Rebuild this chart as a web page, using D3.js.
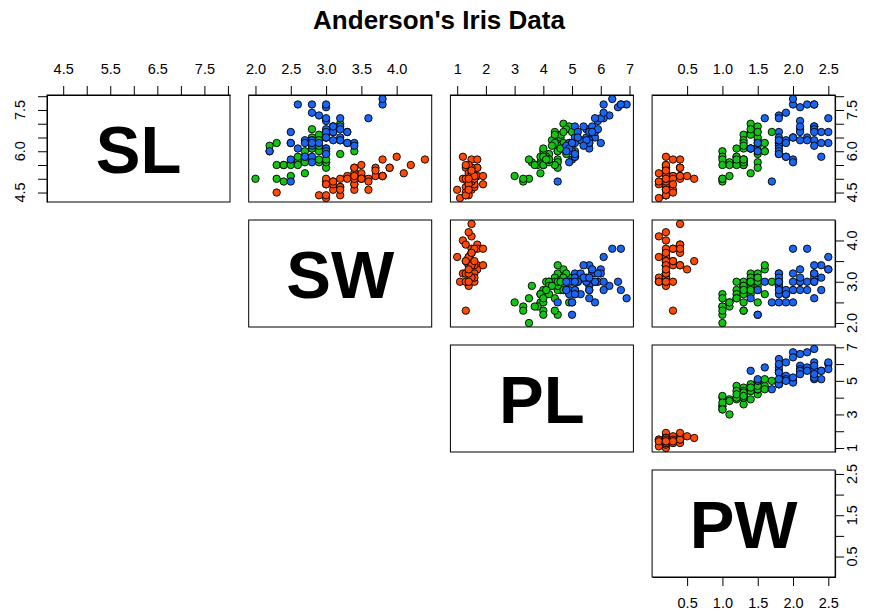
<!DOCTYPE html>
<html>
<head>
<meta charset="utf-8">
<script src="https://cdn.jsdelivr.net/npm/d3@7"></script>
<style>
  html, body { margin: 0; padding: 0; background: #fff; }
  svg { display: block; font-family: "Liberation Sans", Arial, Helvetica, sans-serif; }
</style>
</head>
<body>
<svg id="chart" width="878" height="615"></svg>
<script>
// Anderson's iris measurements (cm), 50 flowers per species, in dataset order.
const sepalLength = [
  5.1,4.9,4.7,4.6,5.0,5.4,4.6,5.0,4.4,4.9,5.4,4.8,4.8,4.3,5.8,5.7,5.4,5.1,5.7,5.1,5.4,5.1,4.6,5.1,4.8,
  5.0,5.0,5.2,5.2,4.7,4.8,5.4,5.2,5.5,4.9,5.0,5.5,4.9,4.4,5.1,5.0,4.5,4.4,5.0,5.1,4.8,5.1,4.6,5.3,5.0,
  7.0,6.4,6.9,5.5,6.5,5.7,6.3,4.9,6.6,5.2,5.0,5.9,6.0,6.1,5.6,6.7,5.6,5.8,6.2,5.6,5.9,6.1,6.3,6.1,6.4,
  6.6,6.8,6.7,6.0,5.7,5.5,5.5,5.8,6.0,5.4,6.0,6.7,6.3,5.6,5.5,5.5,6.1,5.8,5.0,5.6,5.7,5.7,6.2,5.1,5.7,
  6.3,5.8,7.1,6.3,6.5,7.6,4.9,7.3,6.7,7.2,6.5,6.4,6.8,5.7,5.8,6.4,6.5,7.7,7.7,6.0,6.9,5.6,7.7,6.3,6.7,
  7.2,6.2,6.1,6.4,7.2,7.4,7.9,6.4,6.3,6.1,7.7,6.3,6.4,6.0,6.9,6.7,6.9,5.8,6.8,6.7,6.7,6.3,6.5,6.2,5.9
];
const sepalWidth = [
  3.5,3.0,3.2,3.1,3.6,3.9,3.4,3.4,2.9,3.1,3.7,3.4,3.0,3.0,4.0,4.4,3.9,3.5,3.8,3.8,3.4,3.7,3.6,3.3,3.4,
  3.0,3.4,3.5,3.4,3.2,3.1,3.4,4.1,4.2,3.1,3.2,3.5,3.6,3.0,3.4,3.5,2.3,3.2,3.5,3.8,3.0,3.8,3.2,3.7,3.3,
  3.2,3.2,3.1,2.3,2.8,2.8,3.3,2.4,2.9,2.7,2.0,3.0,2.2,2.9,2.9,3.1,3.0,2.7,2.2,2.5,3.2,2.8,2.5,2.8,2.9,
  3.0,2.8,3.0,2.9,2.6,2.4,2.4,2.7,2.7,3.0,3.4,3.1,2.3,3.0,2.5,2.6,3.0,2.6,2.3,2.7,3.0,2.9,2.9,2.5,2.8,
  3.3,2.7,3.0,2.9,3.0,3.0,2.5,2.9,2.5,3.6,3.2,2.7,3.0,2.5,2.8,3.2,3.0,3.8,2.6,2.2,3.2,2.8,2.8,2.7,3.3,
  3.2,2.8,3.0,2.8,3.0,2.8,3.8,2.8,2.8,2.6,3.0,3.4,3.1,3.0,3.1,3.1,3.1,2.7,3.2,3.3,3.0,2.5,3.0,3.4,3.0
];
const petalLength = [
  1.4,1.4,1.3,1.5,1.4,1.7,1.4,1.5,1.4,1.5,1.5,1.6,1.4,1.1,1.2,1.5,1.3,1.4,1.7,1.5,1.7,1.5,1.0,1.7,1.9,
  1.6,1.6,1.5,1.4,1.6,1.6,1.5,1.5,1.4,1.5,1.2,1.3,1.4,1.3,1.5,1.3,1.3,1.3,1.6,1.9,1.4,1.6,1.4,1.5,1.4,
  4.7,4.5,4.9,4.0,4.6,4.5,4.7,3.3,4.6,3.9,3.5,4.2,4.0,4.7,3.6,4.4,4.5,4.1,4.5,3.9,4.8,4.0,4.9,4.7,4.3,
  4.4,4.8,5.0,4.5,3.5,3.8,3.7,3.9,5.1,4.5,4.5,4.7,4.4,4.1,4.0,4.4,4.6,4.0,3.3,4.2,4.2,4.2,4.3,3.0,4.1,
  6.0,5.1,5.9,5.6,5.8,6.6,4.5,6.3,5.8,6.1,5.1,5.3,5.5,5.0,5.1,5.3,5.5,6.7,6.9,5.0,5.7,4.9,6.7,4.9,5.7,
  6.0,4.8,4.9,5.6,5.8,6.1,6.4,5.6,5.1,5.6,6.1,5.6,5.5,4.8,5.4,5.6,5.1,5.1,5.9,5.7,5.2,5.0,5.2,5.4,5.1
];
const petalWidth = [
  0.2,0.2,0.2,0.2,0.2,0.4,0.3,0.2,0.2,0.1,0.2,0.2,0.1,0.1,0.2,0.4,0.4,0.3,0.3,0.3,0.2,0.4,0.2,0.5,0.2,
  0.2,0.4,0.2,0.2,0.2,0.2,0.4,0.1,0.2,0.2,0.2,0.2,0.1,0.2,0.2,0.3,0.3,0.2,0.6,0.4,0.3,0.2,0.2,0.2,0.2,
  1.4,1.5,1.5,1.3,1.5,1.3,1.6,1.0,1.3,1.4,1.0,1.5,1.0,1.4,1.3,1.4,1.5,1.0,1.5,1.1,1.8,1.3,1.5,1.2,1.3,
  1.4,1.4,1.7,1.5,1.0,1.1,1.0,1.2,1.6,1.5,1.6,1.5,1.3,1.3,1.3,1.2,1.4,1.2,1.0,1.3,1.2,1.3,1.3,1.1,1.3,
  2.5,1.9,2.1,1.8,2.2,2.1,1.7,1.8,1.8,2.5,2.0,1.9,2.1,2.0,2.4,2.3,1.8,2.2,2.3,1.5,2.3,2.0,2.0,1.8,2.1,
  1.8,1.8,1.8,2.1,1.6,1.9,2.0,2.2,1.5,1.4,2.3,2.4,1.8,1.8,2.1,2.4,2.3,1.9,2.3,2.5,2.3,1.9,2.0,2.3,1.8
];
const speciesNames = ["setosa", "versicolor", "virginica"];
const speciesCounts = [50, 50, 50];
const speciesColors = ["#ff4a05", "#14c314", "#1a66f2"];

// Variable abbreviations shown on the diagonal
const varLabels = ["SL", "SW", "PL", "PW"];

// Tick marks and which of them carry a printed label (top/bottom, left/right)
const slTicks = [4.5, 5.0, 5.5, 6.0, 6.5, 7.0, 7.5, 8.0];
const slTopLabels = [4.5, 5.5, 6.5, 7.5];
const slSideLabels = [4.5, 6.0, 7.5];
const swTicks = [2.0, 2.5, 3.0, 3.5, 4.0];
const swTopLabels = [2.0, 2.5, 3.0, 3.5, 4.0];
const swSideLabels = [2.0, 3.0, 4.0];
const plTicks = [1, 2, 3, 4, 5, 6, 7];
const plTopLabels = [1, 2, 3, 4, 5, 6, 7];
const plSideLabels = [1, 3, 5, 7];
const pwTicks = [0.5, 1.0, 1.5, 2.0, 2.5];
const pwTopLabels = [0.5, 1.0, 1.5, 2.0, 2.5];
const pwSideLabels = [0.5, 1.5, 2.5];

// ---------------------------------------------------------------------------
const columns = [sepalLength, sepalWidth, petalLength, petalWidth];
const tickSets = [slTicks, swTicks, plTicks, pwTicks];
const topLabelSets = [slTopLabels, swTopLabels, plTopLabels, pwTopLabels];
const sideLabelSets = [slSideLabels, swSideLabels, plSideLabels, pwSideLabels];
const decimals = [1, 1, 0, 1];

const species = [];
speciesCounts.forEach((n, k) => { for (let i = 0; i < n; i++) species.push(k); });
const rows = d3.range(species.length).map(i => ({
  v: columns.map(c => c[i]),
  s: species[i]
}));

const svg = d3.select("#chart");
svg.append("rect").attr("width", 878).attr("height", 615).attr("fill", "#fff");

// Grid geometry
const panelW = 183, panelH = 107;
const colX = d3.range(4).map(j => 47 + j * 201.7);
const rowY = d3.range(4).map(i => 95 + i * 125);
const tickLen = 9;
const fontSize = 14.5;

// Per-variable scales with 4% padding on each side of the data range
function padded(vals) {
  const [lo, hi] = d3.extent(vals);
  const p = (hi - lo) * 0.04;
  return [lo - p, hi + p];
}
const domains = columns.map(padded);
const xScales = d3.range(4).map(j => d3.scaleLinear().domain(domains[j]).range([colX[j], colX[j] + panelW]));
const yScales = d3.range(4).map(i => d3.scaleLinear().domain(domains[i]).range([rowY[i] + panelH, rowY[i]]));

svg.append("text")
  .attr("x", 439).attr("y", 29)
  .attr("text-anchor", "middle")
  .attr("font-size", 26).attr("font-weight", "bold")
  .text("Anderson's Iris Data");

// Panels on and above the diagonal
for (let i = 0; i < 4; i++) {
  for (let j = i; j < 4; j++) {
    const g = svg.append("g");
    if (i === j) {
      g.append("text")
        .attr("x", colX[j] + panelW / 2)
        .attr("y", rowY[i] + panelH / 2 + 24)
        .attr("text-anchor", "middle")
        .attr("font-size", 67).attr("font-weight", "bold")
        .text(varLabels[i]);
    } else {
      const xs = xScales[j], ys = yScales[i];
      g.selectAll("circle").data(rows).join("circle")
        .attr("cx", d => xs(d.v[j]))
        .attr("cy", d => ys(d.v[i]))
        .attr("r", 3.7)
        .attr("fill", d => speciesColors[d.s])
        .attr("stroke", "#000")
        .attr("stroke-width", 0.9);
    }
    g.append("rect")
      .attr("x", colX[j]).attr("y", rowY[i])
      .attr("width", panelW).attr("height", panelH)
      .attr("fill", "none").attr("stroke", "#000").attr("stroke-width", 1);
  }
}

function styleAxis(g) {
  g.selectAll("text").attr("font-size", fontSize).attr("fill", "#000")
    .attr("font-family", "'Liberation Sans', Arial, sans-serif");
  g.selectAll("line").attr("stroke", "#000");
  g.select(".domain").attr("stroke", "#000");
}
const fmtFor = (k, labels) => d => labels.includes(d) ? d3.format("." + decimals[k] + "f")(d) : "";

// Horizontal axes: top of every column, bottom of the last column
for (let j = 0; j < 4; j++) {
  const ax = d3.axisTop(xScales[j])
    .tickValues(tickSets[j]).tickSize(tickLen).tickSizeOuter(0).tickPadding(12)
    .tickFormat(fmtFor(j, topLabelSets[j]));
  svg.append("g").attr("transform", `translate(0,${rowY[0]})`).call(ax).call(styleAxis);
}
{
  const ax = d3.axisBottom(xScales[3])
    .tickValues(tickSets[3]).tickSize(tickLen).tickSizeOuter(0).tickPadding(12)
    .tickFormat(fmtFor(3, topLabelSets[3]));
  svg.append("g").attr("transform", `translate(0,${rowY[3] + panelH})`).call(ax).call(styleAxis);
}

// Vertical axes: left of the first row, right of every row; labels run upward
function sideAxis(i, side) {
  const x0 = side === "left" ? colX[0] : colX[3] + panelW;
  const ax = (side === "left" ? d3.axisLeft(yScales[i]) : d3.axisRight(yScales[i]))
    .tickValues(tickSets[i]).tickSize(tickLen).tickSizeOuter(0)
    .tickFormat("");
  const g = svg.append("g").attr("transform", `translate(${x0},0)`).call(ax).call(styleAxis);
  const lx = side === "left" ? -27 : 17;
  g.selectAll("text.lab").data(sideLabelSets[i]).join("text")
    .attr("class", "lab")
    .attr("transform", d => `translate(${lx},${yScales[i](d)}) rotate(-90)`)
    .attr("text-anchor", "middle")
    .attr("dy", "0.36em")
    .attr("font-size", fontSize)
    .attr("fill", "#000")
    .text(d => d3.format("." + decimals[i] + "f")(d));
}
sideAxis(0, "left");
for (let i = 0; i < 4; i++) sideAxis(i, "right");
</script>
</body>
</html>
